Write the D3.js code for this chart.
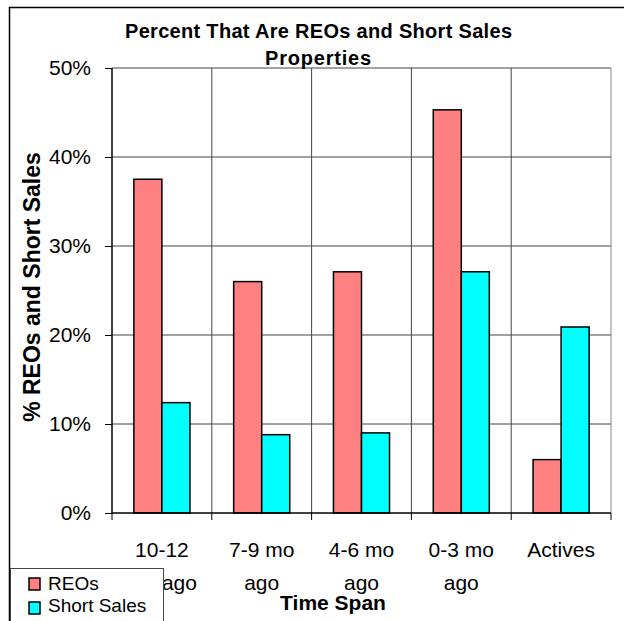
<!DOCTYPE html>
<html><head><meta charset="utf-8">
<script src="https://cdn.jsdelivr.net/npm/d3@7"></script>
<style>body{margin:0;background:#fff}svg{display:block;font-family:"Liberation Sans",Arial,sans-serif}</style>
</head><body>
<svg id="c" width="624" height="621"></svg>
<script>
const categories = [["10-12","mo ago"],["7-9 mo","ago"],["4-6 mo","ago"],["0-3 mo","ago"],["Actives"]];
const categoryKeys = ["10-12 mo ago","7-9 mo ago","4-6 mo ago","0-3 mo ago","Actives"];
const reos = [37.5, 26.0, 27.1, 45.3, 6.0];
const shortSales = [12.4, 8.8, 9.0, 27.1, 20.9];
const seriesNames = ["REOs","Short Sales"];
const seriesColors = ["#FF8080","#00FFFF"];
const yTicks = [0,10,20,30,40,50];

const svg = d3.select("#c");
const L=112, R=611, T=68, B=513;
const x = d3.scaleBand().domain(categoryKeys).range([L,R]).paddingInner(0).paddingOuter(0);
const xs = d3.scaleBand().domain(seriesNames).range([0,x.bandwidth()]).paddingInner(0).paddingOuter(0.78);
const y = d3.scaleLinear().domain([0,50]).range([B,T]);

// outer frame
svg.append("rect").attr("x",9.5).attr("y",7.5).attr("width",640).attr("height",640).attr("fill","none").attr("stroke","#000").attr("stroke-width",1.5);

// horizontal gridlines
svg.append("g").selectAll("line").data(yTicks.filter(d=>d>0)).join("line")
  .attr("x1",L).attr("x2",R).attr("y1",d=>y(d)).attr("y2",d=>y(d))
  .attr("stroke","#444").attr("stroke-width",1);
// vertical gridlines
const bounds = categoryKeys.map(k=>x(k)).concat([R]);
svg.append("g").selectAll("line").data(bounds.slice(1)).join("line")
  .attr("x1",d=>d).attr("x2",d=>d).attr("y1",T).attr("y2",B)
  .attr("stroke",(d,i)=>i===bounds.length-2?"#888":"#444").attr("stroke-width",1);

// bars
const data = categoryKeys.map((k,i)=>({k, vals:[reos[i],shortSales[i]]}));
const g = svg.append("g").selectAll("g").data(data).join("g").attr("transform",d=>`translate(${x(d.k)},0)`);
g.selectAll("rect").data(d=>d.vals.map((v,j)=>({v,s:seriesNames[j],c:seriesColors[j]}))).join("rect")
  .attr("x",d=>xs(d.s)).attr("width",xs.bandwidth())
  .attr("y",d=>y(d.v)).attr("height",d=>B-y(d.v))
  .attr("fill",d=>d.c).attr("stroke","#000").attr("stroke-width",1.5);

// y axis
const ya = svg.append("g").attr("transform",`translate(${L},0)`)
  .call(d3.axisLeft(y).tickValues(yTicks).tickFormat(d=>d+"%").tickSize(7).tickPadding(14));
ya.select(".domain").attr("stroke","#000").attr("stroke-width",1.5).attr("d",`M0,${T}V${B}`);
ya.selectAll(".tick line").attr("stroke","#000");
ya.selectAll(".tick text").attr("font-size",21).attr("fill","#000").attr("font-family","Liberation Sans, Arial, sans-serif");

// x axis
const xa = svg.append("g").attr("transform",`translate(0,${B})`)
  .call(d3.axisBottom(x).tickSize(0).tickFormat(""));
xa.select(".domain").attr("stroke","#000").attr("stroke-width",1.5).attr("d",`M${L},0H${R}`);
svg.append("g").selectAll("line").data(bounds).join("line")
  .attr("x1",d=>d).attr("x2",d=>d).attr("y1",B).attr("y2",B+7).attr("stroke","#000");
const lbl = svg.append("g").selectAll("text").data(categoryKeys).join("text")
  .attr("x",d=>x(d)+x.bandwidth()/2).attr("y",557).attr("text-anchor","middle")
  .attr("font-size",21).attr("fill","#000");
lbl.each(function(d,i){
  const t=d3.select(this);
  categories[i].forEach((ln,j)=>t.append("tspan").attr("x",x(d)+x.bandwidth()/2).attr("dy",j?33:0).text(ln));
});

// titles
const title = svg.append("text").attr("x",318.5).attr("y",38).attr("text-anchor","middle")
  .attr("font-size",20).attr("font-weight","bold");
title.append("tspan").attr("x",318.5).attr("textLength",387).attr("lengthAdjust","spacing").text("Percent That Are REOs and Short Sales");
title.append("tspan").attr("x",318.5).attr("dy",26.5).attr("letter-spacing",0.8).text("Properties");

svg.append("text").attr("transform","translate(40,287) rotate(-90)").attr("text-anchor","middle")
  .attr("font-size",23).attr("font-weight","bold").text("% REOs and Short Sales");
svg.append("text").attr("x",333).attr("y",610).attr("text-anchor","middle")
  .attr("font-size",21).attr("font-weight","bold").text("Time Span");

// legend
const lg = svg.append("g");
lg.append("rect").attr("x",10.5).attr("y",568.5).attr("width",153).attr("height",70).attr("fill","#fff").attr("stroke","#444").attr("stroke-width",1);
seriesNames.forEach((s,i)=>{
  lg.append("rect").attr("x",29).attr("y",578+i*24).attr("width",11).attr("height",12)
    .attr("fill",seriesColors[i]).attr("stroke","#000").attr("stroke-width",1.5);
  lg.append("text").attr("x",48).attr("y",590+i*22).attr("font-size",19).text(s);
});
</script>
</body></html>
